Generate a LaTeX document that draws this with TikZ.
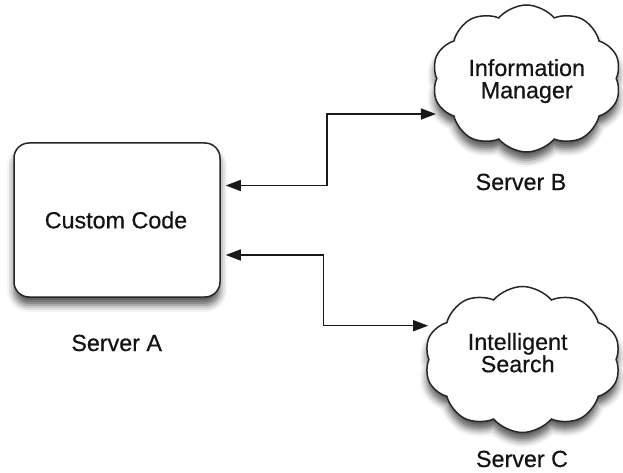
\documentclass[tikz,border=0pt]{standalone}
\usepackage{fontspec}
\setmainfont{Liberation Sans}[FakeBold=0.5]
\usetikzlibrary{shapes.symbols,arrows.meta,shadows.blur}
\newcommand\mylblfont{\fontsize{23.3}{22.3}\selectfont\lineskiplimit=-30pt\relax}
\begin{document}
\begin{tikzpicture}[x=1pt,y=-1pt,
  lbl/.style={font=\mylblfont, text=black!92, inner sep=0pt, align=center},
  shd/.style={blur shadow={shadow xshift=0pt, shadow yshift=-8pt, shadow blur radius=7pt, shadow opacity=65}},
  serverbox/.style={draw=black!85, line width=1.5pt, fill=white, rounded corners=15pt,
    minimum width=206pt, minimum height=154pt, inner sep=0pt, shd},
  cloudnode/.style={cloud, cloud puffs=10, cloud puff arc=100, cloud ignores aspect,
    draw=black!85, line width=1.5pt, fill=white, inner sep=0pt, shd},
  conn/.style={line width=1.5pt, draw=black!90, {Triangle[length=15pt,width=11pt]}-{Triangle[length=15pt,width=11pt]}}
]
\useasboundingbox (0,0) rectangle (623,473);

\node[serverbox] (A) at (117,220) {};
\node[lbl] (At) at (116,220) {Custom Code};
\node[lbl, anchor=base] (Al) at (116.7,351) {Server A};

\node[cloudnode, minimum width=189pt, minimum height=147pt] (B) at (526.5,78.5) {};
\node[lbl] (Bt) at (526.7,81.1) {Information\\Manager};
\node[lbl, anchor=base] (Bl) at (521,190) {Server B};

\node[cloudnode, minimum width=196pt, minimum height=146pt] (C) at (522.5,359.5) {};
\node[lbl] (Ct) at (517.7,352.7) {Intelligent\\Search};
\node[lbl, anchor=base] (Cl) at (522,467) {Server C};

\draw[conn] ([xshift=5pt,yshift=34.5pt]A.east) -- ++(101,0) |- (B.west |- 0,114);
\draw[conn] ([xshift=5pt,yshift=-35pt]A.east) -- ++(97.7,0) |- (C.west |- 0,325.7);
\end{tikzpicture}
\end{document}
